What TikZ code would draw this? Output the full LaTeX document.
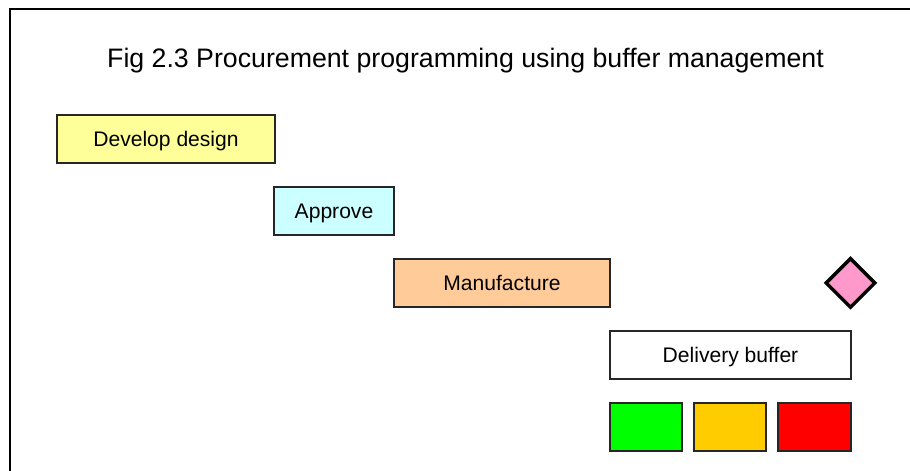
\documentclass[tikz,border=0pt]{standalone}
\usepackage{fontspec}
\setmainfont{Liberation Sans}
\usepackage{tikz}
\usetikzlibrary{shapes.geometric}

\definecolor{designfill}{HTML}{FFFF99}
\definecolor{approvefill}{HTML}{CCFFFF}
\definecolor{makefill}{HTML}{FFCC99}
\definecolor{bufgreen}{HTML}{00FF00}
\definecolor{bufamber}{HTML}{FFCC00}
\definecolor{bufred}{HTML}{FF0000}
\definecolor{milefill}{HTML}{FF99CC}

\begin{document}
\begin{tikzpicture}[
		task/.style={draw=black!85, line width=0.8pt, minimum height=0.96cm, inner sep=0pt, text height=0.38cm, text depth=0.08cm, font=\fontsize{12}{14}\selectfont},
		zone/.style={draw=black!85, line width=0.8pt, minimum width=1.44cm, minimum height=0.96cm, inner sep=0pt}
	]
		\useasboundingbox (0,0) rectangle (18.2,9.42);
		\begin{scope}
			\clip (0,0) rectangle (18.2,9.42);
			\draw[line width=1.1pt] (0.2,-1) rectangle (19,9.24); % frame
		\end{scope}

		\node[font=\fontsize{15.2}{18}\selectfont] (title) at (9.31, 8.2) {Fig 2.3 Procurement programming using buffer management};

		% the chain of tasks
		\node[task, fill=designfill, minimum width=4.36cm] (design) at (3.32, 6.64) {Develop design};
		\node[task, fill=approvefill, minimum width=2.4cm] (approve) at (6.68, 5.2) {Approve};
		\node[task, fill=makefill, minimum width=4.32cm] (make) at (10.04, 3.76) {Manufacture};
		\node[task, fill=white, minimum width=4.82cm] (buffer) at (14.61, 2.32) {Delivery buffer};

		% buffer zones
		\node[zone, fill=bufgreen] (green) at (12.92, 0.88) {};
		\node[zone, fill=bufamber] (amber) at (14.6, 0.88) {};
		\node[zone, fill=bufred, minimum width=1.46cm] (red) at (16.29, 0.88) {};

		% delivery date
		\node[diamond, draw, line width=2pt, fill=milefill, minimum width=1.0cm, minimum height=1.0cm, inner sep=0pt] (due) at (17.01, 3.76) {};
\end{tikzpicture}
\end{document}
